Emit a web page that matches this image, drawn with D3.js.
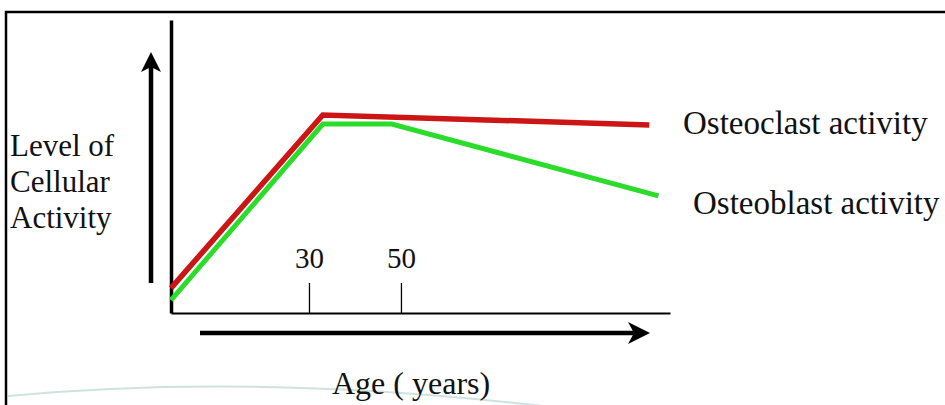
<!DOCTYPE html>
<html>
<head>
<meta charset="utf-8">
<script src="https://cdn.jsdelivr.net/npm/d3@7"></script>
<style>
  html, body { margin: 0; padding: 0; background: #fff; }
  svg { display: block; }
  text { font-family: "Liberation Serif", "Times New Roman", serif; fill: #111; }
</style>
</head>
<body>
<script>
// ---- data ----
const seriesNames = ["Osteoclast activity", "Osteoblast activity"];
const osteoclastAge   = [0, 33, 104];
const osteoclastLevel = [8.5, 67.6, 64.2];
const osteoblastAge   = [0, 33, 48, 106];
const osteoblastLevel = [4.4, 64.5, 64.5, 40];
const tickAges = [30, 50];
const yLabelLines = ["Level of", "Cellular", "Activity"];
const xTitle = "Age ( years)";

const W = 945, H = 405;
const svg = d3.select("body").append("svg").attr("width", W).attr("height", H);

// background frame
svg.append("rect").attr("x", 6).attr("y", 12).attr("width", 1000).attr("height", 500)
  .attr("fill", "none").attr("stroke", "#000").attr("stroke-width", 2.5);

// faint decorative swoosh
svg.append("path")
  .attr("d", "M8,396 Q260,372 560,408")
  .attr("fill", "none").attr("stroke", "#b9d6d6").attr("stroke-width", 2).attr("opacity", 0.7);

const x = d3.scaleLinear().domain([0, 108.5]).range([171, 670]);
const y = d3.scaleLinear().domain([0, 100]).range([313, 20]);

// x axis (ticks upward, labels above)
const gx = svg.append("g").attr("transform", `translate(0,${y(0)})`)
  .call(d3.axisTop(x).tickValues(tickAges).tickSizeInner(30).tickSizeOuter(0).tickPadding(15).tickFormat(d3.format("d")));
gx.select(".domain").attr("stroke", "#000").attr("stroke-width", 2);
gx.selectAll(".tick line").attr("stroke", "#000").attr("stroke-width", 1.3);
gx.selectAll(".tick text").attr("font-size", 29).attr("font-family", "Liberation Serif").attr("fill", "#111");

// y axis line
const gy = svg.append("g").attr("transform", `translate(${x(0)},0)`)
  .call(d3.axisLeft(y).tickValues([]).tickSizeOuter(0));
gy.select(".domain").attr("stroke", "#000").attr("stroke-width", 3.5);

// series lines
const line = d3.line().x(d => x(d[0])).y(d => y(d[1]));
const greenPts = osteoblastAge.map((a, i) => [a, osteoblastLevel[i]]);
const redPts = osteoclastAge.map((a, i) => [a, osteoclastLevel[i]]);
svg.append("path").attr("d", line(greenPts)).attr("fill", "none")
  .attr("stroke", "#2bdc2b").attr("stroke-width", 5).attr("stroke-linejoin", "miter");
svg.append("path").attr("d", line(redPts)).attr("fill", "none")
  .attr("stroke", "#cc1515").attr("stroke-width", 5.5).attr("stroke-linejoin", "miter");

// series labels
svg.append("text").attr("x", 683).attr("y", 134).attr("font-size", 33).text(seriesNames[0]);
svg.append("text").attr("x", 693).attr("y", 214).attr("font-size", 33).text(seriesNames[1]);

// up arrow
const ax = 151, ayBottom = 283, ayTip = 52;
svg.append("line").attr("x1", ax).attr("x2", ax).attr("y1", ayBottom).attr("y2", ayTip + 14)
  .attr("stroke", "#000").attr("stroke-width", 4.5);
svg.append("path").attr("d", `M${ax},${ayTip} L${ax + 10},${ayTip + 20} L${ax},${ayTip + 15} L${ax - 10},${ayTip + 20} Z`)
  .attr("fill", "#000");

// right arrow
const rY = 333, rx0 = 200, rxTip = 650;
svg.append("line").attr("x1", rx0).attr("x2", rxTip - 14).attr("y1", rY).attr("y2", rY)
  .attr("stroke", "#000").attr("stroke-width", 4.5);
svg.append("path").attr("d", `M${rxTip},${rY} L${rxTip - 22},${rY - 11} L${rxTip - 16},${rY} L${rxTip - 22},${rY + 11} Z`)
  .attr("fill", "#000");

// y label
svg.append("text").attr("font-size", 31)
  .selectAll("tspan").data(yLabelLines).join("tspan")
  .attr("x", 10).attr("y", (d, i) => 156 + i * 36).text(d => d);

// x title
svg.append("text").attr("x", 332).attr("y", 394).attr("font-size", 32).text(xTitle);
</script>
</body>
</html>
